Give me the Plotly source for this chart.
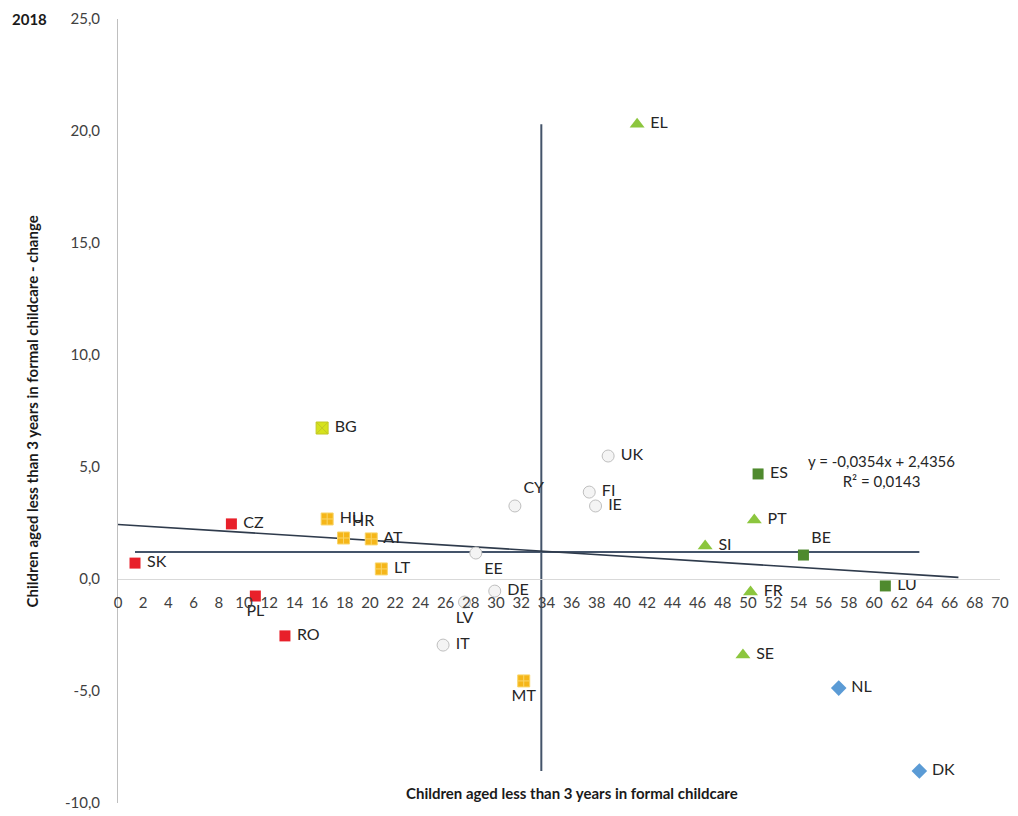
import numpy as np
import plotly.graph_objects as go

# ---------------- data ----------------
countries = ["EL", "BG", "UK", "ES", "CY", "FI", "IE", "PT", "CZ", "HU",
             "HR", "AT", "SI", "BE", "EE", "SK", "LT", "LU", "FR", "DE",
             "LV", "PL", "RO", "IT", "SE", "MT", "NL", "DK"]
childcare = [41.2, 16.2, 38.9, 50.8, 31.5, 37.4, 37.9, 50.5, 9.0, 16.6,
             17.9, 20.1, 46.6, 54.4, 28.4, 1.35, 20.9, 60.9, 50.2, 29.9,
             27.5, 10.9, 13.25, 25.8, 49.6, 32.2, 57.2, 63.6]
change = [20.3, 6.74, 5.49, 4.69, 3.26, 3.88, 3.26, 2.63, 2.46, 2.68,
          1.83, 1.79, 1.47, 1.07, 1.16, 0.71, 0.45, -0.31, -0.58, -0.54,
          -1.03, -0.76, -2.54, -2.95, -3.39, -4.55, -4.87, -8.57]
group = ["tri", "bg", "circ", "dsq", "circ", "circ", "circ", "tri", "red", "yel",
         "yel", "yel", "tri", "dsq", "circ", "red", "yel", "dsq", "tri", "circ",
         "circ", "red", "red", "circ", "tri", "yel", "dia", "dia"]

trend_slope = -0.0354
trend_intercept = 2.4356
trend_r2 = 0.0143
trend_x_range = [0, 66.7]

x_ticks = list(range(0, 71, 2))
y_ticks = [25, 20, 15, 10, 5, 0, -5, -10]
y_ticktext = ["25,0", "20,0", "15,0", "10,0", "5,0", "0,0", "-5,0", "-10,0"]

# ---------------- styles ----------------
FONT = "Lato"
styles = {
    "red":  dict(symbol="square", color="#E8202A", line=dict(color="#E8202A", width=0), size=11),
    "yel":  dict(symbol="square-cross", color="#F5B619", line=dict(color="#F9D56A", width=1), size=12),
    "bg":   dict(symbol="square-x", color="#D6E21C", line=dict(color="#C2C826", width=1), size=12),
    "circ": dict(symbol="circle", color="#F4F4F4", line=dict(color="#BFBFBF", width=1), size=12),
    "tri":  dict(symbol="triangle-up", color="#8CC63E", line=dict(color="#8CC63E", width=0), size=13),
    "dsq":  dict(symbol="square", color="#4F8A2E", line=dict(color="#4F8A2E", width=0), size=11),
    "dia":  dict(symbol="diamond", color="#5B9BD5", line=dict(color="#5B9BD5", width=0), size=12),
}
text_pos = {"PL": "bottom center", "LV": "bottom center", "MT": "bottom center",
            "BE": "top right", "HR": "top right", "EE": "bottom right",
            "CY": "top right"}

fig = go.Figure()

# mean lines
mx = float(np.mean(childcare))
my = float(np.mean(change))
fig.add_trace(go.Scatter(x=[mx, mx], y=[min(change), max(change)], mode="lines",
                         line=dict(color="#44546A", width=2), hoverinfo="skip", showlegend=False))
fig.add_trace(go.Scatter(x=[min(childcare), max(childcare)], y=[my, my], mode="lines",
                         line=dict(color="#44546A", width=2), hoverinfo="skip", showlegend=False))
# trend line
tx = np.array(trend_x_range)
fig.add_trace(go.Scatter(x=tx, y=trend_slope * tx + trend_intercept, mode="lines",
                         line=dict(color="#2F3B4C", width=1.6), hoverinfo="skip", showlegend=False))

for g, st in styles.items():
    idx = [i for i, gg in enumerate(group) if gg == g]
    pos = [text_pos.get(countries[i], "middle right") for i in idx]
    fig.add_trace(go.Scatter(
        x=[childcare[i] for i in idx],
        y=[change[i] for i in idx],
        text=[(" " + countries[i]) if p == "middle right" else countries[i] for i, p in zip(idx, pos)],
        textposition=pos,
        mode="markers+text",
        marker=dict(symbol=st["symbol"], color=st["color"], size=st["size"], line=st["line"]),
        textfont=dict(family=FONT, size=16, color="#262626"),
        showlegend=False,
    ))

fig.add_annotation(x=60.6, y=4.8, xref="x", yref="y",
                   text="y = -0,0354x + 2,4356<br>R² = 0,0143",
                   showarrow=False, align="center",
                   font=dict(family=FONT, size=15, color="#262626"))

fig.add_annotation(x=-0.0998, y=1.0, xref="paper", yref="paper", text="<b>2018</b>",
                   showarrow=False, xanchor="center", yanchor="middle",
                   font=dict(family=FONT, size=15, color="#1A1A1A"))
fig.add_annotation(x=0.515, y=0.013, xref="paper", yref="paper",
                   text="<b>Children aged less than 3 years in formal childcare</b>",
                   showarrow=False, xanchor="center", yanchor="middle",
                   font=dict(family=FONT, size=15, color="#1A1A1A"))
fig.add_annotation(x=-0.097, y=0.5, xref="paper", yref="paper", textangle=-90,
                   text="<b>Children aged less than 3 years in formal childcare - change</b>",
                   showarrow=False, xanchor="center", yanchor="middle",
                   font=dict(family=FONT, size=15, color="#1A1A1A"))

zero_pos = (0 - (-10)) / 35.0
fig.update_layout(
    width=1010, height=808,
    margin=dict(l=110, r=18, t=11, b=13),
    paper_bgcolor="white", plot_bgcolor="white",
    xaxis=dict(range=[0, 70], tickvals=x_ticks, ticktext=[str(v) for v in x_ticks],
               showgrid=False, zeroline=False, showline=True, linecolor="#D9D9D9", linewidth=1,
               anchor="free", position=zero_pos, ticks="outside", ticklen=10, tickcolor="rgba(0,0,0,0)",
               automargin=False,
               tickfont=dict(family=FONT, size=15, color="#404040")),
    yaxis=dict(range=[-10, 25], tickvals=y_ticks, ticktext=y_ticktext,
               showgrid=False, zeroline=False, showline=True, linecolor="#BFBFBF", linewidth=1,
               ticks="outside", ticklen=14, tickcolor="rgba(0,0,0,0)", automargin=False,
               tickfont=dict(family=FONT, size=15, color="#404040")),
)

fig.write_html("out.html")
